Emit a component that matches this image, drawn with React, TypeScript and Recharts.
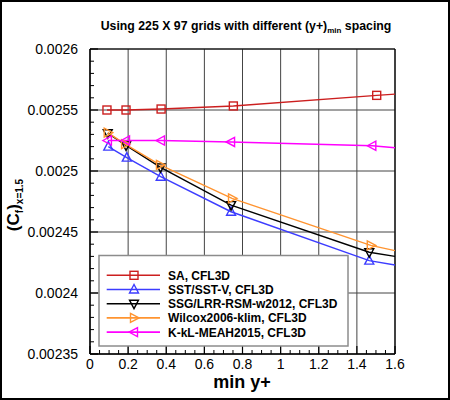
import React from 'react';
import { LineChart, Line, XAxis, YAxis, CartesianGrid, ReferenceLine } from 'recharts';

// the last point of each series is where the curve leaves the frame (no marker)
const saX = [0.089, 0.189, 0.373, 0.752, 1.504, 1.6];
const saY = [0.00255, 0.00255, 0.0025508, 0.0025533, 0.002562, 0.002563];

const sstX = [0.096, 0.193, 0.371, 0.74, 1.465, 1.6];
const sstY = [0.00252, 0.002511, 0.0024953, 0.0024666, 0.0024265, 0.002423];

const ssgX = [0.093, 0.189, 0.37, 0.74, 1.465, 1.6];
const ssgY = [0.002531, 0.002521, 0.002503, 0.002472, 0.0024334, 0.00243];

const wilcoxX = [0.093, 0.184, 0.367, 0.745, 1.473, 1.6];
const wilcoxY = [0.0025314, 0.0025221, 0.002505, 0.0024776, 0.002439, 0.0024347];

const kklX = [0.094, 0.189, 0.3725, 0.74, 1.481, 1.6];
const kklY = [0.002525, 0.002525, 0.002525, 0.0025238, 0.0025207, 0.002519];

const MARKED_POINTS = 5;

const xMajorTicks = [0, 0.2, 0.4, 0.6, 0.8, 1, 1.2, 1.4, 1.6];
const xTickLabels = ['0', '0.2', '0.4', '0.6', '0.8', '1', '1.2', '1.4', '1.6'];
const xMinorTicks = [
  0.05, 0.1, 0.15, 0.25, 0.3, 0.35, 0.45, 0.5, 0.55, 0.65, 0.7, 0.75,
  0.85, 0.9, 0.95, 1.05, 1.1, 1.15, 1.25, 1.3, 1.35, 1.45, 1.5, 1.55,
];

const yMajorTicks = [0.00235, 0.0024, 0.00245, 0.0025, 0.00255, 0.0026];
const yTickLabels = ['0.00235', '0.0024', '0.00245', '0.0025', '0.00255', '0.0026'];
const yMinorTicks = [
  0.00236, 0.00237, 0.00238, 0.00239, 0.00241, 0.00242, 0.00243, 0.00244,
  0.00246, 0.00247, 0.00248, 0.00249, 0.00251, 0.00252, 0.00253, 0.00254,
  0.00256, 0.00257, 0.00258, 0.00259,
];

type Shape = 'square' | 'up' | 'down' | 'right' | 'left';

const zip = (xs: number[], ys: number[]) => xs.map((x, i) => ({ x, y: ys[i] }));

const SERIES = [
  { name: 'SA, CFL3D', color: '#cc1f1f', shape: 'square' as Shape, data: zip(saX, saY) },
  { name: 'SST/SST-V, CFL3D', color: '#3c3cff', shape: 'up' as Shape, data: zip(sstX, sstY) },
  { name: 'SSG/LRR-RSM-w2012, CFL3D', color: '#000000', shape: 'down' as Shape, data: zip(ssgX, ssgY) },
  { name: 'Wilcox2006-klim, CFL3D', color: '#ff9430', shape: 'right' as Shape, data: zip(wilcoxX, wilcoxY) },
  { name: 'K-kL-MEAH2015, CFL3D', color: '#ff00ff', shape: 'left' as Shape, data: zip(kklX, kklY) },
];

const FONT = '"Liberation Sans", Arial, Helvetica, sans-serif';

function Marker({ cx, cy, shape, color }: { cx: number; cy: number; shape: Shape; color: string }) {
  const common = { fill: 'none', stroke: color, strokeWidth: 1.4 };
  const r = 4.5;
  if (shape === 'square') return <rect x={cx - 4} y={cy - 4} width={8} height={8} {...common} />;
  let pts: number[][];
  if (shape === 'up') pts = [[cx, cy - r - 0.5], [cx - r, cy + r - 1], [cx + r, cy + r - 1]];
  else if (shape === 'down') pts = [[cx, cy + r + 0.5], [cx - r, cy - r + 1], [cx + r, cy - r + 1]];
  else if (shape === 'right') pts = [[cx + r + 0.5, cy], [cx - r + 1, cy - r], [cx - r + 1, cy + r]];
  else pts = [[cx - r - 0.5, cy], [cx + r - 1, cy - r], [cx + r - 1, cy + r]];
  return <polygon points={pts.map((p) => p.join(',')).join(' ')} {...common} />;
}

function YTick(props: any) {
  const { x, y, payload } = props;
  const i = yMajorTicks.indexOf(payload.value);
  if (i < 0) return <line x1={x} x2={x + 4} y1={y} y2={y} stroke="#000" strokeWidth={1} />;
  return (
    <g>
      <line x1={x} x2={x + 8} y1={y} y2={y} stroke="#000" strokeWidth={1.2} />
      <text x={x - 12} y={y} dy={5} textAnchor="end" fontFamily={FONT} fontSize={14} fill="#000">
        {yTickLabels[i]}
      </text>
    </g>
  );
}

function XTick(props: any) {
  const { x, y, payload } = props;
  const i = xMajorTicks.indexOf(payload.value);
  if (i < 0) return <line x1={x} x2={x} y1={y} y2={y - 4} stroke="#000" strokeWidth={1} />;
  return (
    <g>
      <line x1={x} x2={x} y1={y} y2={y - 8} stroke="#000" strokeWidth={1.2} />
      <text x={x} y={y} dy={15} textAnchor="middle" fontFamily={FONT} fontSize={14} fill="#000">
        {xTickLabels[i]}
      </text>
    </g>
  );
}

const legendRows = [275.3, 289.5, 303.7, 317.9, 332.1];

export default function App() {
  return (
    <div style={{ position: 'relative', width: 450, height: 400, background: '#fff' }}>
      <style>{'body{margin:0}'}</style>
      <LineChart width={450} height={400} margin={{ top: 49, right: 55, bottom: 0, left: 0 }}>
        <CartesianGrid
          horizontalValues={yMajorTicks}
          verticalValues={xMajorTicks}
          stroke="#444"
          strokeWidth={1}
        />
        <XAxis
          type="number"
          dataKey="x"
          domain={[0, 1.6]}
          ticks={[...xMajorTicks, ...xMinorTicks]}
          interval={0}
          height={46}
          tickSize={0}
          tickMargin={0}
          tick={<XTick />}
          axisLine={{ stroke: '#000', strokeWidth: 1.5 }}
          allowDataOverflow
        />
        <YAxis
          type="number"
          domain={[0.00235, 0.0026]}
          ticks={[...yMajorTicks, ...yMinorTicks]}
          interval={0}
          width={90}
          tickSize={0}
          tickMargin={0}
          tick={<YTick />}
          axisLine={{ stroke: '#000', strokeWidth: 1.5 }}
          allowDataOverflow
        />
        <ReferenceLine y={0.0026} stroke="#000" strokeWidth={1.2} />
        <ReferenceLine x={1.6} stroke="#000" strokeWidth={1.2} />
        {SERIES.map((s) => (
          <Line
            key={s.name}
            data={s.data}
            dataKey="y"
            name={s.name}
            type="linear"
            stroke={s.color}
            strokeWidth={1.4}
            isAnimationActive={false}
            activeDot={false}
            dot={(p: any) =>
              p.index < MARKED_POINTS ? (
                <Marker key={`${s.name}-${p.index}`} cx={p.cx} cy={p.cy} shape={s.shape} color={s.color} />
              ) : (
                <g key={`${s.name}-${p.index}`} />
              )
            }
          />
        ))}
      </LineChart>

      <svg
        width={450}
        height={400}
        style={{ position: 'absolute', left: 0, top: 0, pointerEvents: 'none' }}
      >
        <text x={246} y={30} textAnchor="middle" fontFamily={FONT} fontWeight="bold" fontSize={12.3}>
          Using 225 X 97 grids with different (y+)
          <tspan fontSize={8} dy={3}>min</tspan>
          <tspan dy={-3}> spacing</tspan>
        </text>

        <text x={242} y={388} textAnchor="middle" fontFamily={FONT} fontWeight="bold" fontSize={18}>
          min y+
        </text>

        <text
          transform="translate(19,205) rotate(-90)"
          textAnchor="middle"
          fontFamily={FONT}
          fontWeight="bold"
          fontSize={17}
        >
          (C
          <tspan fontSize={10} dy={4}>f</tspan>
          <tspan dy={-4}>)</tspan>
          <tspan fontSize={10} dy={4}>x=1.5</tspan>
        </text>

        <rect x={99} y={255.5} width={249} height={90.5} fill="#fff" stroke="#8c8c8c" strokeWidth={1.5} />
        {SERIES.map((s, i) => (
          <g key={s.name}>
            <line x1={106.7} x2={160} y1={legendRows[i]} y2={legendRows[i]} stroke={s.color} strokeWidth={1.6} />
            <Marker cx={134} cy={legendRows[i]} shape={s.shape} color={s.color} />
            <text x={168} y={legendRows[i] + 4.5} fontFamily={FONT} fontWeight="bold" fontSize={12}>
              {s.name}
            </text>
          </g>
        ))}

        <rect x={1} y={1} width={448} height={398} fill="none" stroke="#000" strokeWidth={2} />
      </svg>
    </div>
  );
}
